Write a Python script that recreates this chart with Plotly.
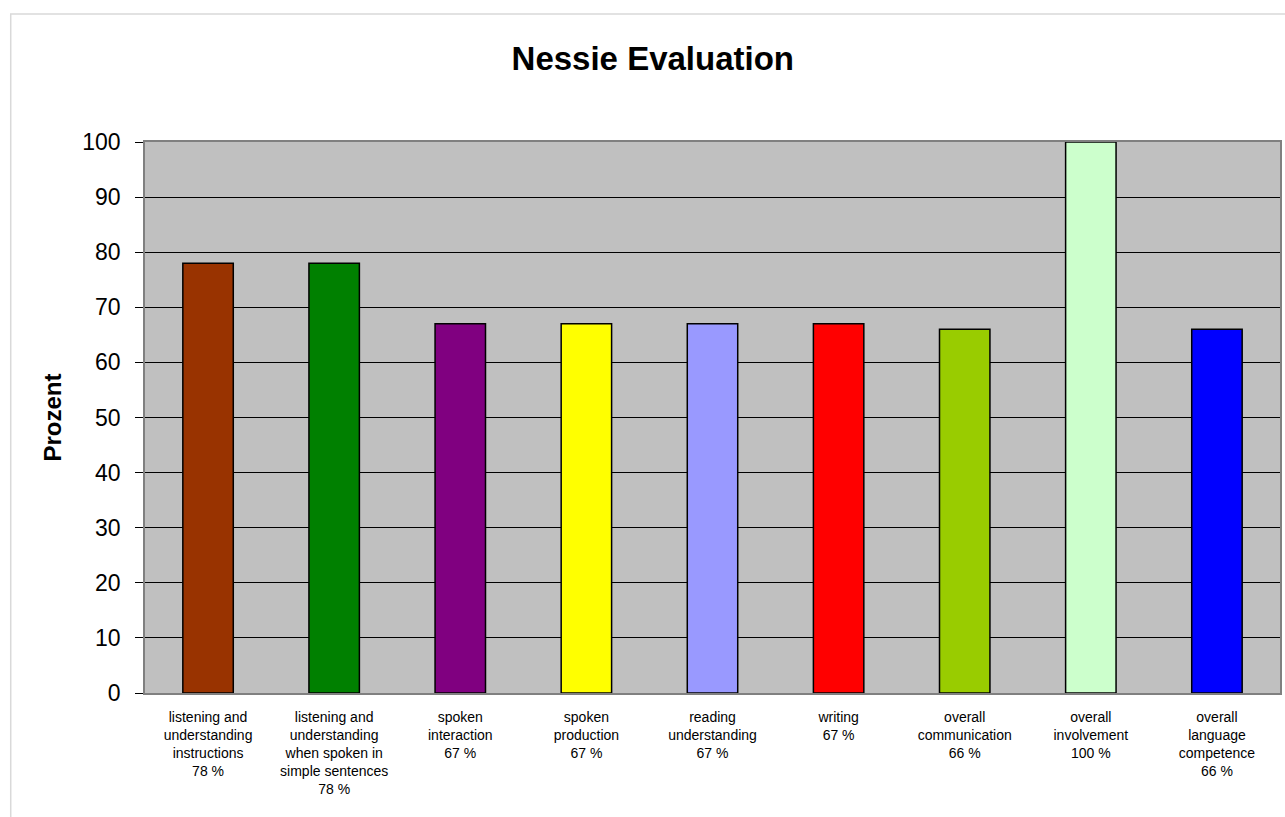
import plotly.graph_objects as go

# Evaluation areas (line-broken as shown under each bar) and their scores in percent
labels = [
    "listening and<br>understanding<br>instructions",
    "listening and<br>understanding<br>when spoken in<br>simple sentences",
    "spoken<br>interaction",
    "spoken<br>production",
    "reading<br>understanding",
    "writing",
    "overall<br>communication",
    "overall<br>involvement",
    "overall<br>language<br>competence",
]
scores = [78, 78, 67, 67, 67, 67, 66, 100, 66]
bar_colors = [
    "#993300", "#008000", "#800080", "#FFFF00", "#9999FF",
    "#FF0000", "#99CC00", "#CCFFCC", "#0000FF",
]
y_ticks = list(range(0, 101, 10))

tick_text = [f"{lab}<br>{val} %" for lab, val in zip(labels, scores)]
x_pos = list(range(len(labels)))

fig = go.Figure(
    go.Bar(
        x=x_pos,
        y=scores,
        width=0.4,
        marker=dict(color=bar_colors, line=dict(color="#000000", width=1.5)),
        hoverinfo="skip",
    )
)

font_family = "Liberation Sans, Arial, sans-serif"

fig.update_layout(
    width=1285,
    height=817,
    margin=dict(l=145, r=3, t=142, b=124),
    paper_bgcolor="#FFFFFF",
    plot_bgcolor="#C0C0C0",
    font=dict(family=font_family, color="#000000"),
    showlegend=False,
    title=dict(
        text="<b>Nessie Evaluation</b>",
        font=dict(size=33, family=font_family, color="#000000"),
        x=0.508,
        xanchor="center",
        xref="container",
        y=0.929,
        yanchor="middle",
        yref="container",
    ),
    xaxis=dict(
        tickmode="array",
        tickvals=x_pos,
        ticktext=tick_text,
        range=[-0.5, len(labels) - 0.5],
        showgrid=False,
        zeroline=False,
        showline=True,
        linecolor="#808080",
        linewidth=1.5,
        mirror=True,
        ticks="",
        tickfont=dict(size=14, family=font_family, color="#000000"),
        ticklabelstandoff=10,
        tickangle=0,
    ),
    yaxis=dict(
        range=[0, 100],
        tickmode="array",
        tickvals=y_ticks,
        showgrid=True,
        gridcolor="#000000",
        gridwidth=1,
        zeroline=False,
        showline=True,
        linecolor="#808080",
        linewidth=1.5,
        mirror=True,
        ticks="outside",
        ticklen=8,
        tickcolor="#000000",
        tickwidth=1,
        tickfont=dict(size=23, family=font_family, color="#000000"),
        ticklabelstandoff=10,
        title=dict(
            text="<b>Prozent</b>",
            font=dict(size=24, family=font_family, color="#000000"),
            standoff=14,
        ),
    ),
    shapes=[
        # light frame around the whole chart area
        dict(
            type="rect",
            xref="paper",
            yref="paper",
            x0=-0.1183,
            x1=1.01,
            y0=-0.25,
            y1=1.2323,
            line=dict(color="#D9D9D9", width=1.5),
            layer="below",
        )
    ],
)

fig.write_html("out.html")
